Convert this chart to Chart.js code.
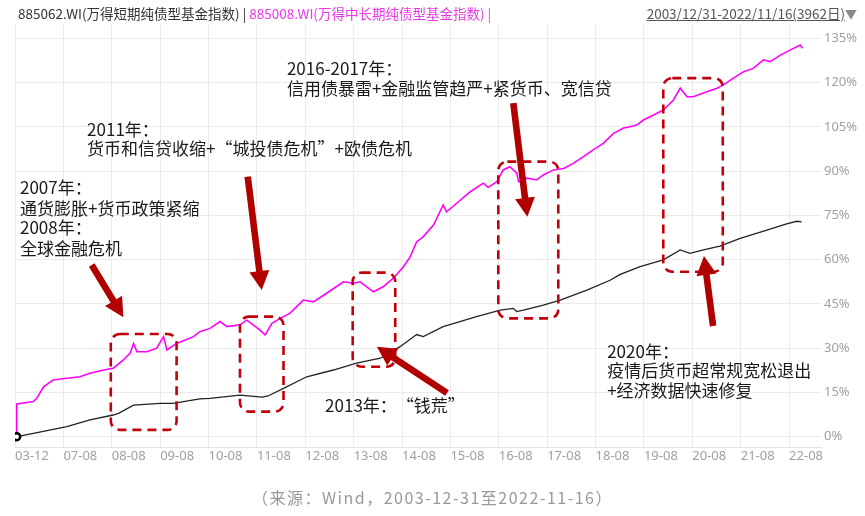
<!DOCTYPE html>
<html>
<head>
<meta charset="utf-8">
<script src="https://cdn.jsdelivr.net/npm/chart.js@4"></script>
<style>
  body { margin: 0; background: #fff; }
  #wrap { position: relative; width: 865px; height: 516px; overflow: hidden; }
  #c { position: absolute; left: 0; top: 0; }
  .hd { position: absolute; top: 3px; font-family: "Noto Sans CJK SC", sans-serif; font-size: 13.5px; line-height: 20px; white-space: nowrap; }
  #hl { left: 18px; color: #333; }
  #hl .m { color: #e83ae8; }
  #hr { right: 8px; color: #555; }
  #hr u { text-decoration: underline; }
  #hr .tri { color: #888; font-size: 12px; }
  #src { position: absolute; left: 0; width: 865px; top: 485px; text-align: center; font-family: "Noto Sans CJK SC", sans-serif; font-size: 16px; letter-spacing: 1.5px; color: #999; }
</style>
</head>
<body>
<div id="wrap">
  <canvas id="c" width="865" height="516"></canvas>
  <div class="hd" id="hl">885062.WI(万得短期纯债型基金指数) | <span class="m">885008.WI(万得中长期纯债型基金指数) |</span></div>
  <div class="hd" id="hr"><u>2003/12/31-2022/11/16(3962日)</u><span class="tri">▼</span></div>
  <div id="src">（来源：Wind，2003-12-31至2022-11-16）</div>
</div>
<script>
// 横轴刻度（等距排列）
const xLabels = ['03-12', '07-08', '08-08', '09-08', '10-08', '11-08', '12-08', '13-08', '14-08',
  '15-08', '16-08', '17-08', '18-08', '19-08', '20-08', '21-08', '22-08'];
const yTicks = [0, 15, 30, 45, 60, 75, 90, 105, 120, 135];

// 885062.WI 万得短期纯债型基金指数（累计涨幅 %），t 为横轴刻度序号位置
const shortT = [0.035, 0.38, 1.07, 1.55, 2.03, 2.14, 2.45, 3.0, 3.27, 3.82, 4.03, 4.65, 5.11, 5.23, 5.55,
  6.03, 6.58, 7.06, 7.55, 7.96, 8.17, 8.30, 8.44, 8.85, 9.54, 10.03, 10.30, 10.37, 10.51, 10.92, 11.27,
  11.82, 12.30, 12.51, 12.71, 12.92, 13.40, 13.75, 13.95, 14.23, 14.57, 14.99, 15.54, 15.95, 16.16, 16.26];
const shortV = [0, 1.15, 3.4, 5.7, 7.35, 7.9, 10.7, 11.3, 11.3, 12.8, 13.0, 14.1, 13.4, 13.8, 16.4,
  20.3, 22.6, 24.9, 26.6, 30.5, 33.0, 34.6, 33.9, 37.3, 40.7, 42.9, 43.5, 42.4, 42.9, 44.6, 46.3,
  49.7, 53.0, 55.0, 56.3, 57.6, 59.9, 63.3, 62.1, 63.3, 64.6, 67.2, 70.0, 72.1, 73.0, 72.8];

// 885008.WI 万得中长期纯债型基金指数（累计涨幅 %）
const longT = [0.035, 0.035, 0.38, 0.45, 0.59, 0.79, 1.07, 1.34, 1.55, 1.83, 2.03, 2.24, 2.38, 2.45, 2.52,
  2.72, 2.93, 3.07, 3.14, 3.34, 3.69, 3.82, 4.03, 4.24, 4.38, 4.65, 4.79, 5.06, 5.17, 5.31, 5.48, 5.68,
  5.96, 6.17, 6.44, 6.79, 6.99, 7.13, 7.41, 7.61, 7.82, 8.03, 8.17, 8.30, 8.44, 8.65, 8.85, 8.92, 9.13,
  9.41, 9.68, 9.78, 9.96, 10.09, 10.23, 10.37, 10.41, 10.58, 10.78, 10.92, 11.13, 11.34, 11.54, 11.75,
  11.95, 12.16, 12.37, 12.58, 12.71, 12.85, 12.99, 13.20, 13.40, 13.61, 13.75, 13.89, 14.02, 14.30,
  14.51, 14.64, 14.85, 15.06, 15.26, 15.47, 15.61, 15.82, 16.02, 16.23, 16.28];
const longV = [0, 11.1, 11.9, 13.0, 16.9, 19.2, 19.8, 20.3, 21.5, 22.6, 23.2, 26.0, 28.3, 31.6, 28.8,
  28.8, 30.0, 33.9, 29.4, 31.6, 33.9, 35.6, 36.7, 39.0, 37.3, 37.9, 39.5, 36.2, 34.5, 38.4, 40.1, 41.8,
  46.3, 45.7, 48.6, 52.5, 52.0, 52.5, 49.1, 50.8, 53.7, 57.6, 61.0, 66.0, 67.8, 71.7, 78.5, 76.2, 79.1,
  83.0, 85.9, 84.5, 86.4, 90.4, 91.5, 89.3, 86.4, 87.6, 87.0, 88.7, 90.4, 90.9, 92.6, 94.9,
  97.2, 99.4, 102.8, 104.6, 105.0, 105.6, 107.3, 109.0, 110.7, 114.1, 118.1, 115.2, 115.2, 116.9,
  118.1, 119.2, 121.5, 123.7, 124.8, 127.7, 127.1, 129.3, 131.0, 132.7, 131.6];

// 标注：虚线框、箭头、文字（均用坐标轴单位）
const boxes = [
  [1.98, 3.34, 2.3, 34.8], [4.65, 5.55, 8.5, 40.7], [6.98, 7.86, 23.7, 55.6],
  [9.99, 11.23, 40.1, 93.2], [13.40, 14.63, 55.9, 121.5]
];
const arrows = [
  [1.585, 58.2, 2.24, 40.5], [4.81, 88.1, 5.10, 49.7], [8.93, 14.8, 7.48, 30.5],
  [10.30, 113.0, 10.59, 74.5], [14.43, 37.5, 14.24, 61.2]
];
const notes = [
  { x: 0.103, y: [84.3, 77.4, 70.7, 63.9], lines: ['2007年：', '通货膨胀+货币政策紧缩', '2008年：', '全球金融危机'] },
  { x: 1.49, y: [104.2, 97.8], lines: ['2011年：', '货币和信贷收缩+“城投债危机”+欧债危机'] },
  { x: 5.62, y: [124.6, 117.8], lines: ['2016-2017年：', '信用债暴雷+金融监管趋严+紧货币、宽信贷'] },
  { x: 6.41, y: [10.4], lines: ['2013年：“钱荒”'] },
  { x: 12.24, y: [29.0, 22.3, 15.5], lines: ['2020年：', '疫情后货币超常规宽松退出', '+经济数据快速修复'] }
];

const notesPlugin = {
  id: 'notes',
  afterDatasetsDraw(chart) {
    const { ctx, scales: { x, y } } = chart;
    ctx.save();
    // 虚线框
    ctx.strokeStyle = '#c0000a';
    ctx.lineWidth = 2.6;
    ctx.setLineDash([9, 6]);
    boxes.forEach(([x0, x1, y0, y1]) => {
      const l = x.getPixelForValue(x0), r = x.getPixelForValue(x1);
      const t = y.getPixelForValue(y1), b = y.getPixelForValue(y0);
      ctx.beginPath();
      ctx.roundRect(l, t, r - l, b - t, 9);
      ctx.stroke();
    });
    ctx.setLineDash([]);
    // 箭头
    ctx.fillStyle = '#b00000';
    arrows.forEach(([tx, ty, hx, hy]) => {
      const x0 = x.getPixelForValue(tx), y0 = y.getPixelForValue(ty);
      const x1 = x.getPixelForValue(hx), y1 = y.getPixelForValue(hy);
      const len = Math.hypot(x1 - x0, y1 - y0);
      const ux = (x1 - x0) / len, uy = (y1 - y0) / len;
      const nx = -uy, ny = ux;
      const hl = 19, hw = 10, sw = 3.3;
      const bx = x1 - ux * hl, by = y1 - uy * hl;
      ctx.beginPath();
      ctx.moveTo(x0 + nx * sw, y0 + ny * sw);
      ctx.lineTo(bx + nx * sw, by + ny * sw);
      ctx.lineTo(bx + nx * hw, by + ny * hw);
      ctx.lineTo(x1, y1);
      ctx.lineTo(bx - nx * hw, by - ny * hw);
      ctx.lineTo(bx - nx * sw, by - ny * sw);
      ctx.lineTo(x0 - nx * sw, y0 - ny * sw);
      ctx.closePath();
      ctx.fill();
    });
    // 文字
    ctx.fillStyle = '#1a1a1a';
    ctx.font = '17px "Noto Sans CJK SC"';
    ctx.textBaseline = 'middle';
    ctx.textAlign = 'left';
    notes.forEach(n => {
      const px = x.getPixelForValue(n.x);
      n.lines.forEach((s, i) => ctx.fillText(s, px, y.getPixelForValue(n.y[i])));
    });
    ctx.restore();
  }
};

const tickFont = { family: 'Noto Sans', size: 13 };

new Chart(document.getElementById('c').getContext('2d'), {
  type: 'line',
  data: {
    datasets: [{
      label: '885062.WI',
      data: shortT.map((t, i) => ({ x: t, y: shortV[i] })),
      borderColor: '#222',
      borderWidth: 1.3,
      pointRadius: c => c.dataIndex === 0 ? 3.5 : 0,
      pointBorderWidth: 2.6,
      pointBorderColor: '#000',
      pointBackgroundColor: '#fff',
      tension: 0
    }, {
      label: '885008.WI',
      data: longT.map((t, i) => ({ x: t, y: longV[i] })),
      borderColor: '#ff00ff',
      borderWidth: 1.6,
      pointRadius: 0,
      tension: 0
    }]
  },
  options: {
    responsive: false,
    animation: false,
    layout: { padding: { left: 15, top: 25, right: 0, bottom: 49 } },
    plugins: { legend: { display: false }, tooltip: { enabled: false } },
    scales: {
      x: {
        type: 'linear',
        min: 0,
        max: 16.66,
        afterBuildTicks: s => { s.ticks = xLabels.map((_, i) => ({ value: i })); },
        afterFit: s => { s.height = 20; },
        ticks: {
          autoSkip: false, align: 'start', padding: 1, maxRotation: 0,
          color: '#a0a0a0', font: tickFont,
          callback: v => xLabels[v]
        },
        grid: { color: '#ebebeb', drawTicks: false },
        border: { color: '#e4e4e4' }
      },
      y: {
        position: 'right',
        min: -3.49,
        max: 139.5,
        afterBuildTicks: s => { s.ticks = yTicks.map(v => ({ value: v })); },
        afterFit: s => { s.width = 44; },
        ticks: { padding: 3, color: '#a0a0a0', font: tickFont, callback: v => v + '%' },
        grid: { color: '#ebebeb', drawTicks: false },
        border: { display: false }
      }
    }
  },
  plugins: [notesPlugin]
});
</script>
</body>
</html>
